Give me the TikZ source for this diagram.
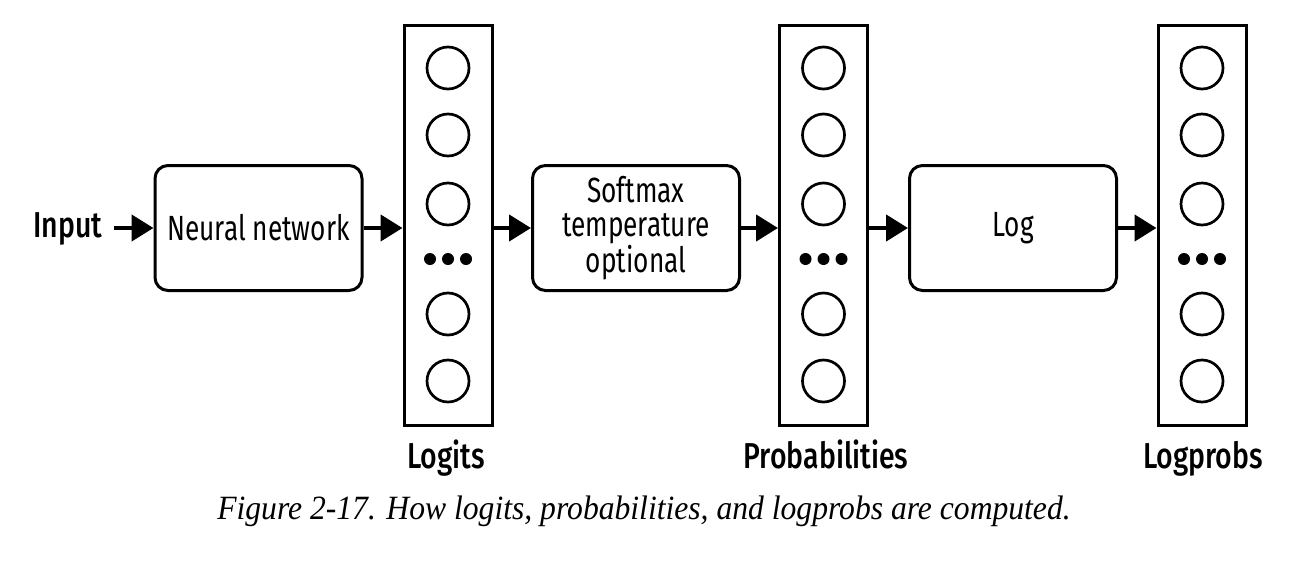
\documentclass[tikz,border=0pt]{standalone}
\usepackage{fontspec}
\usetikzlibrary{arrows.meta}
\newfontfamily\boxfnt{Fira Sans}[FakeStretch=0.75]
\newfontfamily\labfnt{Fira Sans Medium}[FakeStretch=0.79]
\newfontfamily\capfnt{Liberation Serif}[FakeStretch=0.93]
\tikzset{
  procbox/.style={draw, line width=3pt, rounded corners=13pt, minimum width=207pt,
    minimum height=125pt, align=center, inner sep=0pt,
    font=\boxfnt\fontsize{35}{34}\selectfont},
  colbox/.style={draw, line width=3pt, minimum width=88pt, minimum height=400pt, inner sep=0pt},
  unitc/.style={circle, draw, line width=2.7pt, minimum size=42pt, inner sep=0pt},
  dotc/.style={circle, fill, minimum size=12pt, inner sep=0pt},
  labtxt/.style={inner sep=0pt, font=\labfnt\fontsize{36}{38}\selectfont},
  arr/.style={line width=4.5pt, -{Triangle[length=22pt,width=26pt]}},
}
\begin{document}
\begin{tikzpicture}[x=1pt,y=-1pt]
\useasboundingbox[fill=white] (0,0) rectangle (1316,560);

% process boxes
\node[procbox] (nn) at (258.5,228) {Neural network};
\node[procbox] (sm) at (636,228) {Softmax\\temperature\\optional};
\node[procbox] (lg) at (1013,228) {Log};

% columns
\node[colbox] (logits) at (448,225) {};
\node[colbox] (probs) at (823.5,225) {};
\node[colbox] (lprobs) at (1202,225) {};

\foreach \c/\x in {logits/448, probs/823.5, lprobs/1202}{
  \node[unitc] (\c-1) at (\x,68) {};
  \node[unitc] (\c-2) at (\x,135) {};
  \node[unitc] (\c-3) at (\x,204) {};
  \node[dotc] (\c-d1) at (\x-18,259) {};
  \node[dotc] (\c-d2) at (\x,259) {};
  \node[dotc] (\c-d3) at (\x+18,259) {};
  \node[unitc] (\c-4) at (\x,314) {};
  \node[unitc] (\c-5) at (\x,381) {};
}

% labels
\node[labtxt, anchor=base west] (in) at (33,237) {Input};
\node[labtxt, anchor=base] (l1) at (446,468) {Logits};
\node[labtxt, anchor=base] (l2) at (826,468) {Probabilities};
\node[labtxt, anchor=base] (l3) at (1203,468) {Logprobs};

% arrows
\draw[arr] ([xshift=12pt]in.east |- nn.west) -- (nn.west);
\draw[arr] (nn.east) -- (nn.east -| logits.west);
\draw[arr] (logits.east |- sm.west) -- (sm.west);
\draw[arr] (sm.east) -- (sm.east -| probs.west);
\draw[arr] (probs.east |- lg.west) -- (lg.west);
\draw[arr] (lg.east) -- (lg.east -| lprobs.west);

% caption
\node[anchor=base, inner sep=0pt, font=\capfnt\itshape\fontsize{34}{36}\selectfont] (cap) at (644,519)
  {Figure 2-17. How logits, probabilities, and logprobs are computed.};
\end{tikzpicture}
\end{document}
